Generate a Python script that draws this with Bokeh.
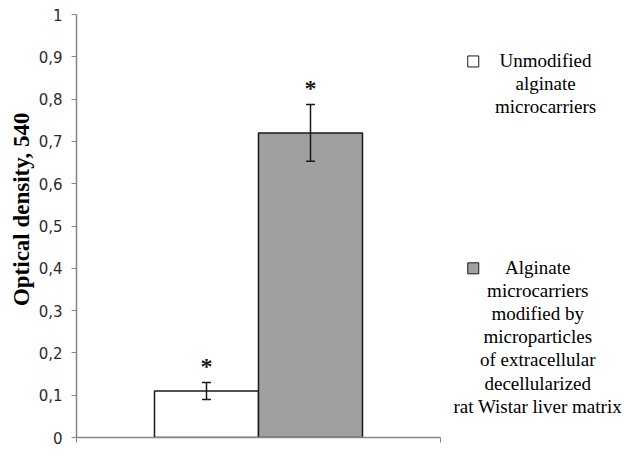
from bokeh.plotting import figure
from bokeh.models import ColumnDataSource, Range1d, Whisker, TeeHead, Title, FixedTicker
from bokeh.core.properties import value
from bokeh.embed import file_html
from bokeh.resources import INLINE

# ---- data ----
series = ["Unmodified\nalginate\nmicrocarriers",
          "Alginate\nmicrocarriers\nmodified by\nmicroparticles\nof extracellular\ndecellularized\nrat Wistar liver matrix"]
values = [0.11, 0.72]
errors = [0.02, 0.067]
fill_colors = ["#ffffff", "#a0a0a0"]
y_ticks = [0, 0.1, 0.2, 0.3, 0.4, 0.5, 0.6, 0.7, 0.8, 0.9, 1]
y_tick_labels = ["0", "0,1", "0,2", "0,3", "0,4", "0,5", "0,6", "0,7", "0,8", "0,9", "1"]
y_title = "Optical density, 540"

# ---- layout ----
bar_w = 2.0
centers = [2.5 + bar_w * i for i in range(len(values))]
x_end = 549 / 52.0

src = ColumnDataSource(dict(
    x=centers, top=values,
    upper=[v + e for v, e in zip(values, errors)],
    lower=[v - e for v, e in zip(values, errors)],
    star_y=[v + e + 0.04 for v, e in zip(values, errors)],
    star=["*"] * len(values),
    fill=fill_colors,
))

p = figure(width=625, height=448, output_backend="svg", toolbar_location=None,
           x_range=Range1d(0, x_end), y_range=Range1d(0, 1),
           min_border_left=76, min_border_right=0, min_border_top=14, min_border_bottom=11)
p.outline_line_color = None
p.xgrid.visible = False
p.ygrid.visible = False
p.background_fill_color = "white"

p.vbar(x="x", top="top", width=bar_w, bottom=0, source=src, fill_color="fill",
       line_color="#1a1a1a", line_width=1.5)

whisk = Whisker(base="x", upper="upper", lower="lower", source=src,
                line_color="#1a1a1a", line_width=1.5, level="overlay",
                upper_head=TeeHead(size=9, line_color="#1a1a1a", line_width=1.5),
                lower_head=TeeHead(size=9, line_color="#1a1a1a", line_width=1.5))
p.add_layout(whisk)

p.text(x="x", y="star_y", text="star", source=src, text_align="center",
       text_baseline="middle", text_font=value("Liberation Serif"),
       text_font_size="24px", text_font_style="bold", text_color="#1a1a1a")

# y axis
ya = p.yaxis[0]
ya.ticker = FixedTicker(ticks=y_ticks)
ya.major_label_overrides = {t: l for t, l in zip(y_ticks, y_tick_labels)}
ya.axis_line_color = "#868686"
ya.axis_line_width = 1.5
ya.major_tick_line_color = "#868686"
ya.major_tick_in = 0
ya.major_tick_out = 5
ya.minor_tick_line_color = None
ya.major_label_text_font = "DejaVu Sans"
ya.major_label_text_font_size = "15px"
ya.major_label_text_color = "#2b2b2b"
ya.major_label_standoff = 9

# x axis
xa = p.xaxis[0]
xa.ticker = FixedTicker(ticks=[0, 7])
xa.bounds = (0, 7)
xa.major_label_overrides = {0: "", 7: ""}
xa.major_label_text_font_size = "1px"
xa.major_label_standoff = 0
xa.axis_line_color = "#868686"
xa.axis_line_width = 1.5
xa.major_tick_line_color = "#868686"
xa.major_tick_in = 0
xa.major_tick_out = 5
xa.minor_tick_line_color = None

# y title
p.add_layout(Title(text=y_title, align="right", offset=98,
                   text_font="Liberation Serif", text_font_style="bold",
                   text_font_size="23px", text_color="#000000", standoff=4), "left")

# legend (drawn)
leg_sq_x = [7.63, 7.63]
leg_sq_y = [0.889, 0.40]
leg_txt_x = [9.02, 8.87]
leg_txt_y = [0.837, 0.238]
p.scatter(x=leg_sq_x, y=leg_sq_y, marker="square", size=11, fill_color=fill_colors,
          line_color="#1a1a1a", line_width=1)
p.text(x=leg_txt_x, y=leg_txt_y, text=series, text_align="center", text_baseline="middle",
       text_font=value("Liberation Serif"), text_font_size="19px", text_line_height=1.1,
       text_color="#000000")

open("out.html", "w").write(file_html(p, INLINE))
